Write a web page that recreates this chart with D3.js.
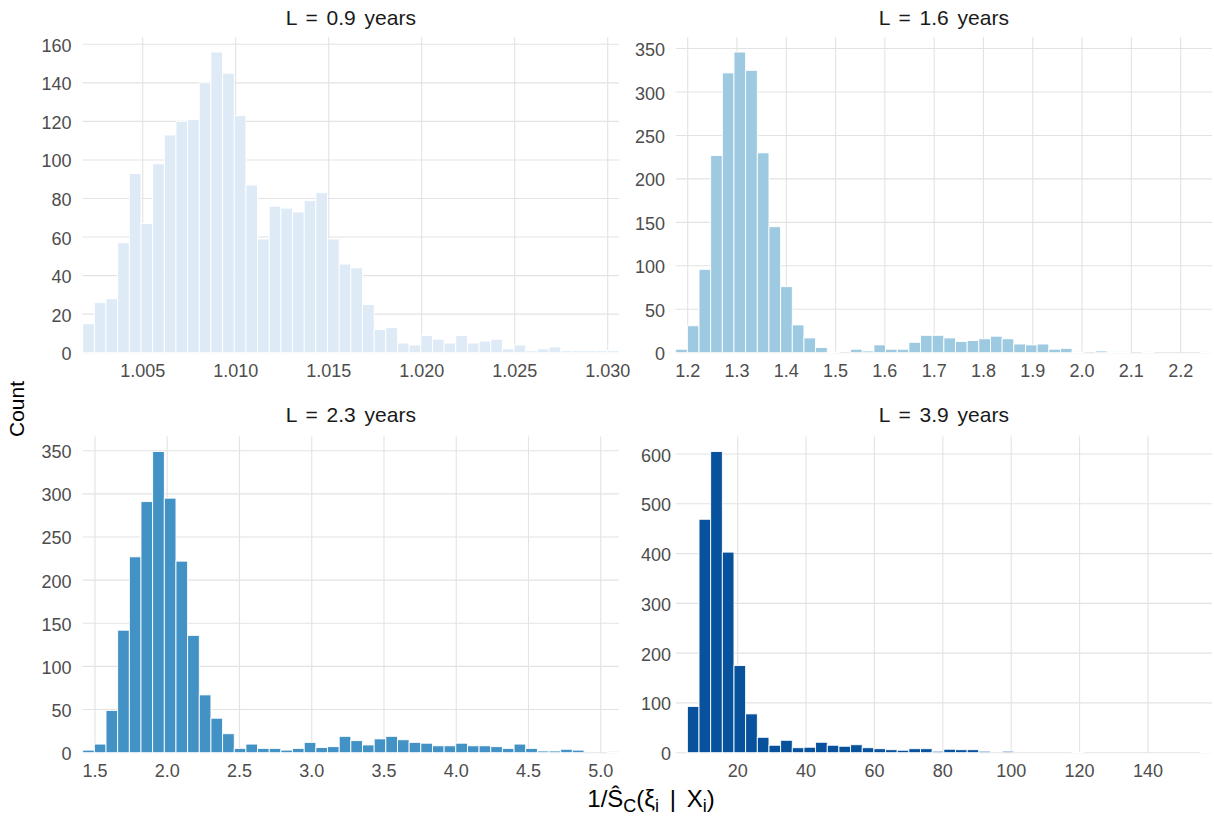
<!DOCTYPE html>
<html><head><meta charset="utf-8">
<script src="https://cdn.jsdelivr.net/npm/d3@7"></script>
<style>
body{margin:0;background:#fff;}
text{font-family:"Liberation Sans", Arial, Helvetica, sans-serif;}
</style></head><body>
<svg id="chart" width="1214" height="834"></svg>
<script>
// ---------------- data ----------------
const panelTitles = ["L = 0.9 years", "L = 1.6 years", "L = 2.3 years", "L = 3.9 years"];
const fillColors  = ["#DEEBF7", "#9ECAE1", "#4292C6", "#08519C"];
const binStarts   = [1.001774, 1.17566, 1.4149, 1.87];
const binWidths   = [0.0006268, 0.02365, 0.08069, 3.41];

const countsL09 = [15,26,28,57,93,67,98,113,120,121,140,156,145,123,87,59,76,75,73,79,83,59,46,44,25,12,13,5,4,9,7,5,9,5,6,7,2,4,1,2,3,1,1,1,1,1];
const countsL16 = [4,31,96,227,322,346,325,230,145,76,32,17,6,1,0,4,2,9,4,4,12,20,20,17,13,14,16,19,16,10,9,10,4,5,1,0,2,1,1,0,1,0,0,0,0,1];
const countsL23 = [3,10,49,142,227,291,349,295,222,136,67,40,22,5,10,5,5,3,5,12,6,7,19,14,9,16,19,15,12,11,8,8,11,8,8,7,5,10,5,2,2,4,3,0,0,1];
const countsL39 = [0,93,469,605,403,175,78,31,15,25,10,11,21,15,13,16,10,8,6,5,8,8,3,7,6,6,3,0,3,0,0,0,0,0,1,0,0,0,0,0,0,0,0,0,0,1];

const xTicksL09 = [1.005, 1.010, 1.015, 1.020, 1.025, 1.030];
const xTicksL16 = [1.2, 1.3, 1.4, 1.5, 1.6, 1.7, 1.8, 1.9, 2.0, 2.1, 2.2];
const xTicksL23 = [1.5, 2.0, 2.5, 3.0, 3.5, 4.0, 4.5, 5.0];
const xTicksL39 = [20, 40, 60, 80, 100, 120, 140];
const yTicksL09 = [0, 20, 40, 60, 80, 100, 120, 140, 160];
const yTicksL16 = [0, 50, 100, 150, 200, 250, 300, 350];
const yTicksL23 = [0, 50, 100, 150, 200, 250, 300, 350];
const yTicksL39 = [0, 100, 200, 300, 400, 500, 600];
const xTickFormats = [".3f", ".1f", ".1f", "d"];

const yTitle = "Count";

// ---------------- layout ----------------
const svg = d3.select("#chart");
const panels = [
  {x0: 82.7,  x1: 619,  y0: 37,    y1: 352.7, ylabX: 71.5, titleY: 25},
  {x0: 675.7, x1: 1212, y0: 37,    y1: 352.7, ylabX: 665,  titleY: 25},
  {x0: 82.7,  x1: 619,  y0: 436.5, y1: 752.7, ylabX: 71.5, titleY: 422},
  {x0: 675.7, x1: 1212, y0: 436.5, y1: 752.7, ylabX: 671,  titleY: 422}
];
const allCounts = [countsL09, countsL16, countsL23, countsL39];
const allXTicks = [xTicksL09, xTicksL16, xTicksL23, xTicksL39];
const allYTicks = [yTicksL09, yTicksL16, yTicksL23, yTicksL39];

const gridColor = "#E3E3E3";
const tickColor = "#4D4D4D";

panels.forEach((p, k) => {
  const counts = allCounts[k];
  const n = counts.length;
  const start = binStarts[k], w = binWidths[k];
  const x = d3.scaleLinear().domain([start, start + n * w]).range([p.x0, p.x1]);
  const y = d3.scaleLinear().domain([0, d3.max(counts) * 1.05]).range([p.y1, p.y0]);
  const g = svg.append("g");

  // grid
  g.selectAll(".hg").data(allYTicks[k]).enter().append("line")
    .attr("x1", p.x0).attr("x2", p.x1)
    .attr("y1", d => y(d)).attr("y2", d => y(d))
    .attr("stroke", gridColor).attr("stroke-width", 1.1);
  g.selectAll(".vg").data(allXTicks[k]).enter().append("line")
    .attr("x1", d => x(d)).attr("x2", d => x(d))
    .attr("y1", p.y0).attr("y2", p.y1)
    .attr("stroke", gridColor).attr("stroke-width", 1.1);

  // bars
  const bins = counts.map((c, i) => ({lo: start + i * w, hi: start + (i + 1) * w, c}));
  g.selectAll(".bar").data(bins.filter(b => b.c > 0)).enter().append("rect")
    .attr("x", d => x(d.lo)).attr("width", d => x(d.hi) - x(d.lo))
    .attr("y", d => y(d.c)).attr("height", d => y(0) - y(d.c))
    .attr("fill", fillColors[k]).attr("stroke", "#fff").attr("stroke-width", 0.9);

  // tick labels
  const fmt = d3.format(xTickFormats[k]);
  g.selectAll(".xl").data(allXTicks[k]).enter().append("text")
    .attr("x", d => x(d)).attr("y", p.y1 + 24)
    .attr("text-anchor", "middle").attr("font-size", 18).attr("fill", tickColor)
    .text(d => fmt(d));
  g.selectAll(".yl").data(allYTicks[k]).enter().append("text")
    .attr("x", p.ylabX).attr("y", d => y(d) + 7.5)
    .attr("text-anchor", "end").attr("font-size", 18).attr("fill", tickColor)
    .text(d => d);

  // strip title
  g.append("text")
    .attr("x", (p.x0 + p.x1) / 2).attr("y", p.titleY)
    .attr("text-anchor", "middle").attr("font-size", 21).attr("word-spacing", 3)
    .attr("fill", "#1A1A1A")
    .text(panelTitles[k]);
});

// y axis title
svg.append("text")
  .attr("transform", "translate(24,409) rotate(-90)")
  .attr("text-anchor", "middle").attr("font-size", 21).attr("fill", "#000")
  .text(yTitle);

// x axis title: 1/Ŝ_C(ξ_i | X_i)
const xt = svg.append("text")
  .attr("x", 651).attr("y", 807)
  .attr("text-anchor", "middle").attr("font-size", 24).attr("word-spacing", 4)
  .attr("fill", "#000");
xt.append("tspan").text("1/Ŝ");
xt.append("tspan").attr("font-size", 18).attr("dy", 5).text("C");
xt.append("tspan").attr("dy", -5).text("(ξ");
xt.append("tspan").attr("font-size", 18).attr("dy", 5).text("i");
xt.append("tspan").attr("dy", -5).text(" | X");
xt.append("tspan").attr("font-size", 18).attr("dy", 5).text("i");
xt.append("tspan").attr("dy", -5).text(")");
</script>
</body></html>
